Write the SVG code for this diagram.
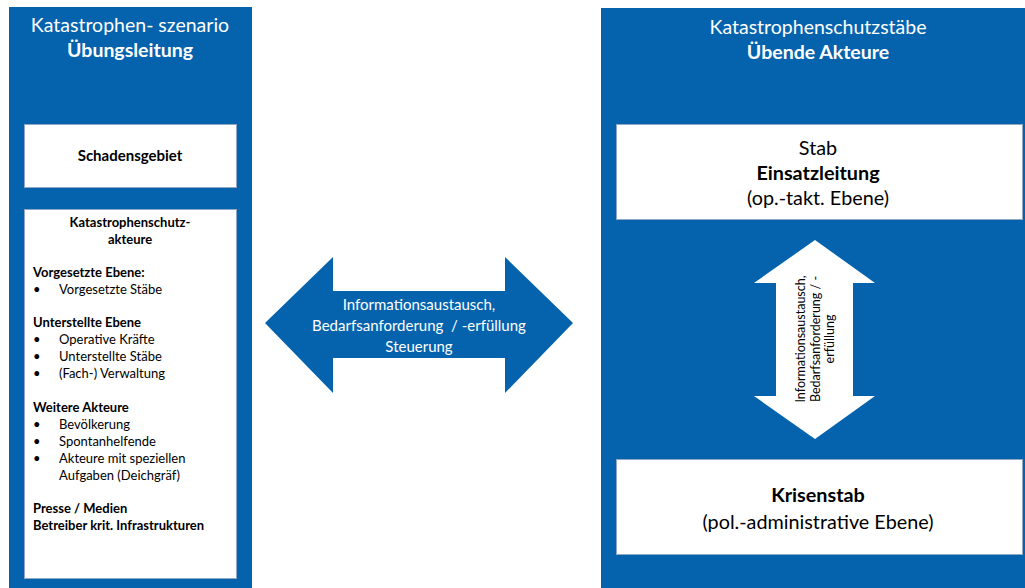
<svg xmlns="http://www.w3.org/2000/svg" width="1025" height="588" viewBox="0 0 1025 588">
<style>
.panel{fill:#0563AE;}
.box{fill:#FFFFFF;stroke:#8FA8C6;stroke-width:1;}
.arrow{fill:#0563AE;}
.warrow{fill:#FFFFFF;}
text{font-family:Lato,"Open Sans","Liberation Sans",sans-serif;}
.wt{fill:#FFFFFF;font-size:19.5px;}
.b{font-weight:bold;}
.dk{fill:#000000;}
.s13{font-size:13px;}
.s15{font-size:15px;}
.s20{font-size:19.8px;}
.mid{text-anchor:middle;}
</style>
<rect width="1025" height="588" fill="#FFFFFF"/>
<g id="panel-left">
<rect class="panel" x="9" y="7" width="243" height="581"/>
<text class="wt mid" x="130" y="32">Katastrophen- szenario</text>
<text class="wt mid b" x="130" y="57">Übungsleitung</text>
</g>
<g id="panel-right">
<rect class="panel" x="601" y="8" width="424" height="580"/>
<text class="wt mid" x="818" y="34">Katastrophenschutzstäbe</text>
<text class="wt mid b" x="818" y="59">Übende Akteure</text>
</g>
<g id="schadensgebiet">
<rect class="box" x="24.5" y="124.5" width="212" height="63"/>
<text class="dk b s15 mid" x="130" y="161">Schadensgebiet</text>
</g>
<g id="akteure">
<rect class="box" x="24.5" y="209.5" width="212" height="369"/>
<g class="dk s13">
<text class="b mid" x="130" y="227">Katastrophenschutz-</text>
<text class="b mid" x="130" y="244">akteure</text>
<text class="b" x="33" y="277">Vorgesetzte Ebene:</text>
<text x="33" y="294">•</text><text x="59" y="294">Vorgesetzte Stäbe</text>
<text class="b" x="33" y="327">Unterstellte Ebene</text>
<text x="33" y="344">•</text><text x="59" y="344">Operative Kräfte</text>
<text x="33" y="361">•</text><text x="59" y="361">Unterstellte Stäbe</text>
<text x="33" y="378">•</text><text x="59" y="378">(Fach-) Verwaltung</text>
<text class="b" x="33" y="412">Weitere Akteure</text>
<text x="33" y="429">•</text><text x="59" y="429">Bevölkerung</text>
<text x="33" y="446">•</text><text x="59" y="446">Spontanhelfende</text>
<text x="33" y="463">•</text><text x="59" y="463">Akteure mit speziellen</text>
<text x="59" y="480">Aufgaben (Deichgräf)</text>
<text class="b" x="33" y="513">Presse / Medien</text>
<text class="b" x="33" y="530">Betreiber krit. Infrastrukturen</text>
</g>
</g>
<g id="einsatzleitung">
<rect class="box" x="616.5" y="124.5" width="406" height="95"/>
<text class="dk s20 mid" x="818" y="155">Stab</text>
<text class="dk s20 b mid" x="818" y="180">Einsatzleitung</text>
<text class="dk s20 mid" x="818" y="205">(op.-takt. Ebene)</text>
</g>
<g id="krisenstab">
<rect class="box" x="616.5" y="459.5" width="406" height="95"/>
<text class="dk s20 b mid" x="818" y="502">Krisenstab</text>
<text class="dk s20 mid" x="818" y="529">(pol.-administrative Ebene)</text>
</g>
<g id="connectors">
<g id="arrow-horizontal">
<polygon class="arrow" points="265,323 333,257 333,291 505,291 505,257 573,323 505,393 505,358 333,358 333,393"/>
<text class="wt mid" style="font-size:15px" x="419" y="310">Informationsaustausch,</text>
<text class="wt mid" style="font-size:15px;white-space:pre" x="419" y="331">Bedarfsanforderung  / -erfüllung</text>
<text class="wt mid" style="font-size:15px" x="419" y="352">Steuerung</text>
</g>
<g id="arrow-vertical">
<polygon class="warrow" points="815,240 875,283 853,283 853,396 875,396 815,439 754,396 776,396 776,283 754,283"/>
<g transform="translate(815,339) rotate(-90)">
<text class="dk mid" style="font-size:12.5px" x="0" y="-10">Informationsaustausch,</text>
<text class="dk mid" style="font-size:12.5px" x="0" y="5">Bedarfsanforderung / -</text>
<text class="dk mid" style="font-size:12.5px" x="0" y="19">erfüllung</text>
</g>
</g>
</g>
</svg>
